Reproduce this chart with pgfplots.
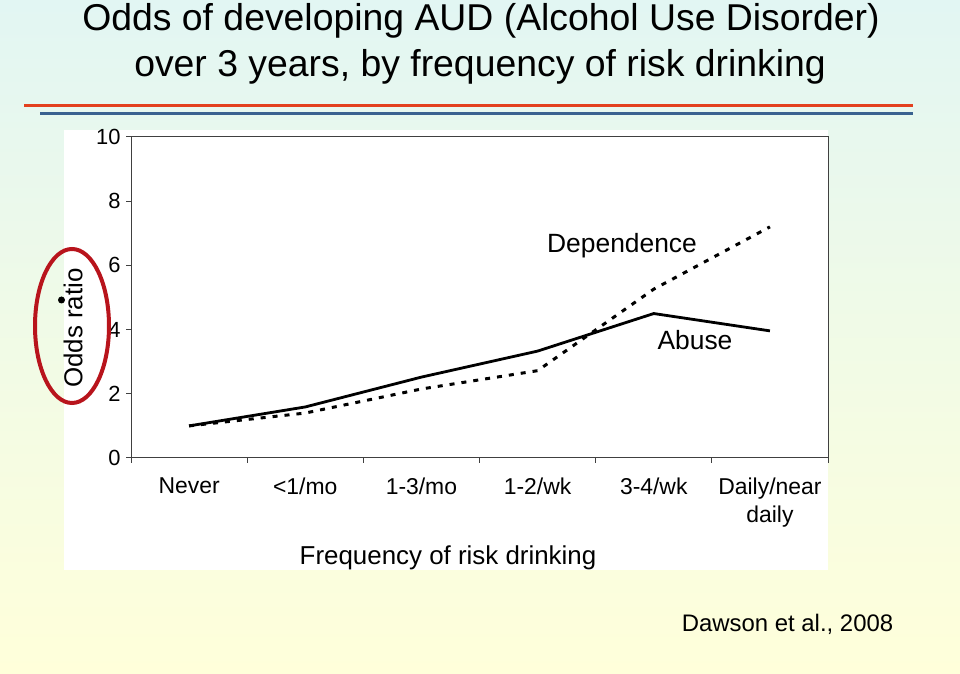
\documentclass[border=0pt]{standalone}
\usepackage{fontspec}
\setmainfont{Liberation Sans}
\usepackage{pgfplots}
\pgfplotsset{compat=1.18}
\definecolor{bgtop}{HTML}{E2F6F3}
\definecolor{bgbot}{HTML}{FFFFDA}
\definecolor{redline}{HTML}{E3401E}
\definecolor{blueline}{HTML}{3A6290}
\definecolor{ellred}{HTML}{B8141C}
\pgfplotstableread{
x abuse dep
0 1.00 1.00
1 1.59 1.40
2 2.52 2.15
3 3.33 2.72
4 4.50 5.26
5 3.96 7.20
}\oddsdata
\begin{document}
\begin{tikzpicture}
\begin{scope}[x=1bp,y=1bp]
\path[use as bounding box] (0,0) rectangle (960,674);
\shade[top color=bgtop,bottom color=bgbot] (0,0) rectangle (960,674);
\fill[white] (64,104) rectangle (828,544);
\node[anchor=base,font=\fontsize{37.5}{40}\selectfont,inner sep=0] at (481,643) {Odds of developing AUD (Alcohol Use Disorder)};
\node[anchor=base,font=\fontsize{37.5}{40}\selectfont,inner sep=0] at (480,597) {over 3 years, by frequency of risk drinking};
\draw[line width=3bp,redline] (24,568) -- (913,568);
\draw[line width=3bp,blueline] (40,560) -- (913,560);
\end{scope}
\begin{axis}[
  at={(131bp,216bp)}, anchor=south west,
  scale only axis, width=697bp, height=321bp,
  xmin=-0.5, xmax=5.5, ymin=0, ymax=10,
  xtick={0,1,2,3,4,5},
  xticklabels={Never,{<1/mo},1-3/mo,1-2/wk,3-4/wk,{Daily/near\\daily}},
  ytick={0,2,4,6,8,10},
  minor xtick={-0.5,0.5,1.5,2.5,3.5,4.5,5.5},
  minor ytick={0,2,4,6,8,10},
  major tick length=0pt, minor tick length=5bp,
  tick align=outside, tick pos=left,
  every tick/.style={line width=1bp,black!75},
  axis line style={line width=1bp,black!75},
  /pgf/number format/assume math mode=true,
  yticklabel style={font=\fontsize{22}{24}\selectfont,xshift=-7bp},
  xticklabel style={font=\fontsize{23}{28}\selectfont,align=center,yshift=-16bp},
  clip=false,
]
\addplot[line width=2.8bp,black] table[x=x,y=abuse] {\oddsdata};
\addplot[line width=3bp,black,dash pattern=on 5bp off 7bp] table[x=x,y=dep] {\oddsdata};
\node[font=\fontsize{26.5}{28}\selectfont] at (axis cs:3.727,6.62) {Dependence};
\node[font=\fontsize{26.5}{28}\selectfont] at (axis cs:4.355,3.68) {Abuse};
\end{axis}
\begin{scope}[x=1bp,y=1bp]
\node[anchor=base,font=\fontsize{26}{30}\selectfont,inner sep=0] at (448,109) {Frequency of risk drinking};
\node[rotate=90,font=\fontsize{26}{30}\selectfont,inner sep=0] at (73,346) {Odds ratio};
\draw[line width=4bp,ellred] (72,348) ellipse [x radius=37, y radius=77];
\fill[black] (61.5,374) circle (3.5);
\node[anchor=base,font=\fontsize{24}{28}\selectfont,inner sep=0] at (787.5,42) {Dawson et al., 2008};
\end{scope}
\end{tikzpicture}
\end{document}
